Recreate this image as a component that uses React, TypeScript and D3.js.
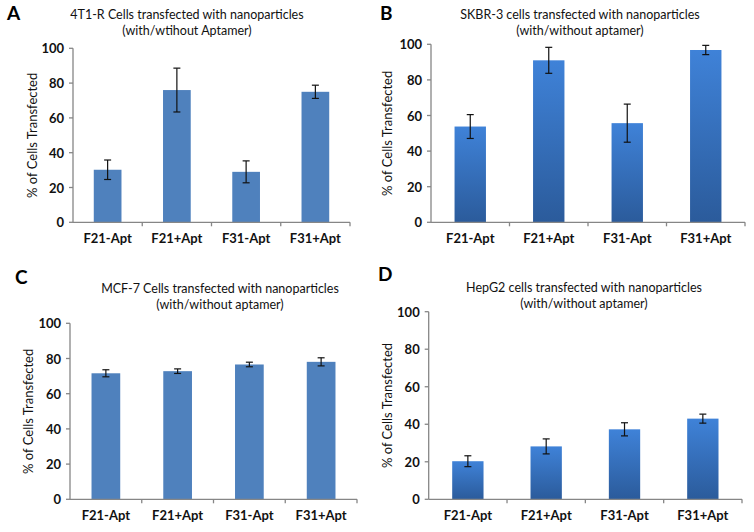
import React from 'react';
import * as d3 from "d3";

const width = 754;
const height = 532;

const categories = ["F21-Apt", "F21+Apt", "F31-Apt", "F31+Apt"];
const yTicks = [0, 20, 40, 60, 80, 100];

const panelLetters = ["A", "B", "C", "D"];
const titlesLine1 = [
  "4T1-R Cells transfected with nanoparticles",
  "SKBR-3 cells transfected with nanoparticles",
  "MCF-7 Cells transfected with nanoparticles",
  "HepG2 cells transfected with nanoparticles",
];
const titlesLine2 = [
  "(with/wtihout Aptamer)",
  "(with/without aptamer)",
  "(with/without aptamer)",
  "(with/without aptamer)",
];

const valuesA = [30.2, 76, 29, 75];
const errorsA = [5.6, 12.6, 6.3, 3.8];
const valuesB = [53.8, 91, 55.7, 96.8];
const errorsB = [6.7, 7.3, 10.7, 2.6];
const valuesC = [71.6, 72.8, 76.6, 78.1];
const errorsC = [2, 1.3, 1.3, 2.3];
const valuesD = [20.3, 28.2, 37.3, 43];
const errorsD = [2.9, 4, 3.5, 2.4];

const allValues = [valuesA, valuesB, valuesC, valuesD];
const allErrors = [errorsA, errorsB, errorsC, errorsD];

// layout of each panel (pixels)
const layouts = [
  { left: 73, right: 350, top: 48.3, bottom: 222.3, titleX: 187, titleY: 19, letterX: 7, letterY: 20, ylabX: 32, gradient: false },
  { left: 431, right: 745, top: 44.3, bottom: 222.3, titleX: 580, titleY: 19, letterX: 380, letterY: 20, ylabX: 387, gradient: true },
  { left: 70, right: 357, top: 323.3, bottom: 499.3, titleX: 220, titleY: 293, letterX: 15, letterY: 284, ylabX: 28, gradient: false },
  { left: 428.7, right: 742, top: 311.7, bottom: 499.3, titleX: 584, titleY: 292, letterX: 378, letterY: 281, ylabX: 387, gradient: true },
];

const font = "Lato, 'Open Sans', sans-serif";
const axisColor = "#868686";

const Panel = ({ idx }: { idx: number }) => {
  const L = layouts[idx];
  const values = allValues[idx];
  const errors = allErrors[idx];
  const x = d3.scaleBand().domain(categories).range([L.left, L.right]).paddingInner(0.6).paddingOuter(0.3);
  const xOuter = d3.scaleBand().domain(categories).range([L.left, L.right]);
  const y = d3.scaleLinear().domain([0, 100]).range([L.bottom, L.top]);
  const fill = L.gradient ? "url(#barGrad)" : "#4f81bd";
  const capW = 3.5;
  return (
    <g>
      <text x={L.letterX} y={L.letterY} fontFamily={font} fontWeight="bold" fontSize={19} fill="#000">
        {panelLetters[idx]}
      </text>
      <text x={L.titleX} y={L.titleY} textAnchor="middle" fontFamily={font} fontSize={12.5} fill="#111">
        {titlesLine1[idx]}
      </text>
      <text x={L.titleX} y={L.titleY + 16} textAnchor="middle" fontFamily={font} fontSize={12.5} fill="#111">
        {titlesLine2[idx]}
      </text>
      <text
        transform={`translate(${L.ylabX},${(L.top + L.bottom) / 2}) rotate(-90)`}
        textAnchor="middle"
        dominantBaseline="central"
        fontFamily={font}
        fontSize={13}
        fill="#111"
      >
        % of Cells Transfected
      </text>
      {values.map((v, i) => (
        <rect
          key={i}
          x={x(categories[i])}
          y={y(v)}
          width={x.bandwidth()}
          height={y(0) - y(v)}
          fill={fill}
        />
      ))}
      {values.map((v, i) => {
        const cx = (x(categories[i]) as number) + x.bandwidth() / 2;
        return (
          <g key={i} stroke="#111" strokeWidth={1.2}>
            <line x1={cx} x2={cx} y1={y(v + errors[i])} y2={y(v - errors[i])} />
            <line x1={cx - capW} x2={cx + capW} y1={y(v + errors[i])} y2={y(v + errors[i])} />
            <line x1={cx - capW} x2={cx + capW} y1={y(v - errors[i])} y2={y(v - errors[i])} />
          </g>
        );
      })}
      <line x1={L.left} x2={L.left} y1={L.top} y2={L.bottom} stroke={axisColor} strokeWidth={1.3} />
      <line x1={L.left} x2={L.right} y1={L.bottom} y2={L.bottom} stroke={axisColor} strokeWidth={1.3} />
      {yTicks.map((t) => (
        <g key={t}>
          <line x1={L.left - 4} x2={L.left} y1={y(t)} y2={y(t)} stroke={axisColor} strokeWidth={1.3} />
          <text
            x={L.left - 9}
            y={y(t)}
            textAnchor="end"
            dominantBaseline="central"
            fontFamily={font}
            fontWeight="bold"
            fontSize={13}
            fill="#111"
          >
            {t}
          </text>
        </g>
      ))}
      {categories.map((c, i) => (
        <g key={c}>
          <line
            x1={(xOuter(c) as number) + xOuter.bandwidth()}
            x2={(xOuter(c) as number) + xOuter.bandwidth()}
            y1={L.bottom}
            y2={L.bottom + 4}
            stroke={axisColor}
            strokeWidth={1.3}
          />
          <text
            x={(x(c) as number) + x.bandwidth() / 2}
            y={L.bottom + 21}
            textAnchor="middle"
            fontFamily={font}
            fontWeight="bold"
            fontSize={13}
            fill="#111"
          >
            {c}
          </text>
        </g>
      ))}
    </g>
  );
};

const App = () => {
  return (
    <svg width={width} height={height} style={{ position: "absolute", left: 0, top: 0, background: "#fff" }}>
      <defs>
        <linearGradient id="barGrad" x1="0" y1="0" x2="0" y2="1">
          <stop offset="0%" stopColor="#3f82d8" />
          <stop offset="100%" stopColor="#2b5b9b" />
        </linearGradient>
      </defs>
      <rect width={width} height={height} fill="#fff" />
      {[0, 1, 2, 3].map((i) => (
        <Panel key={i} idx={i} />
      ))}
    </svg>
  );
};

export default App;
